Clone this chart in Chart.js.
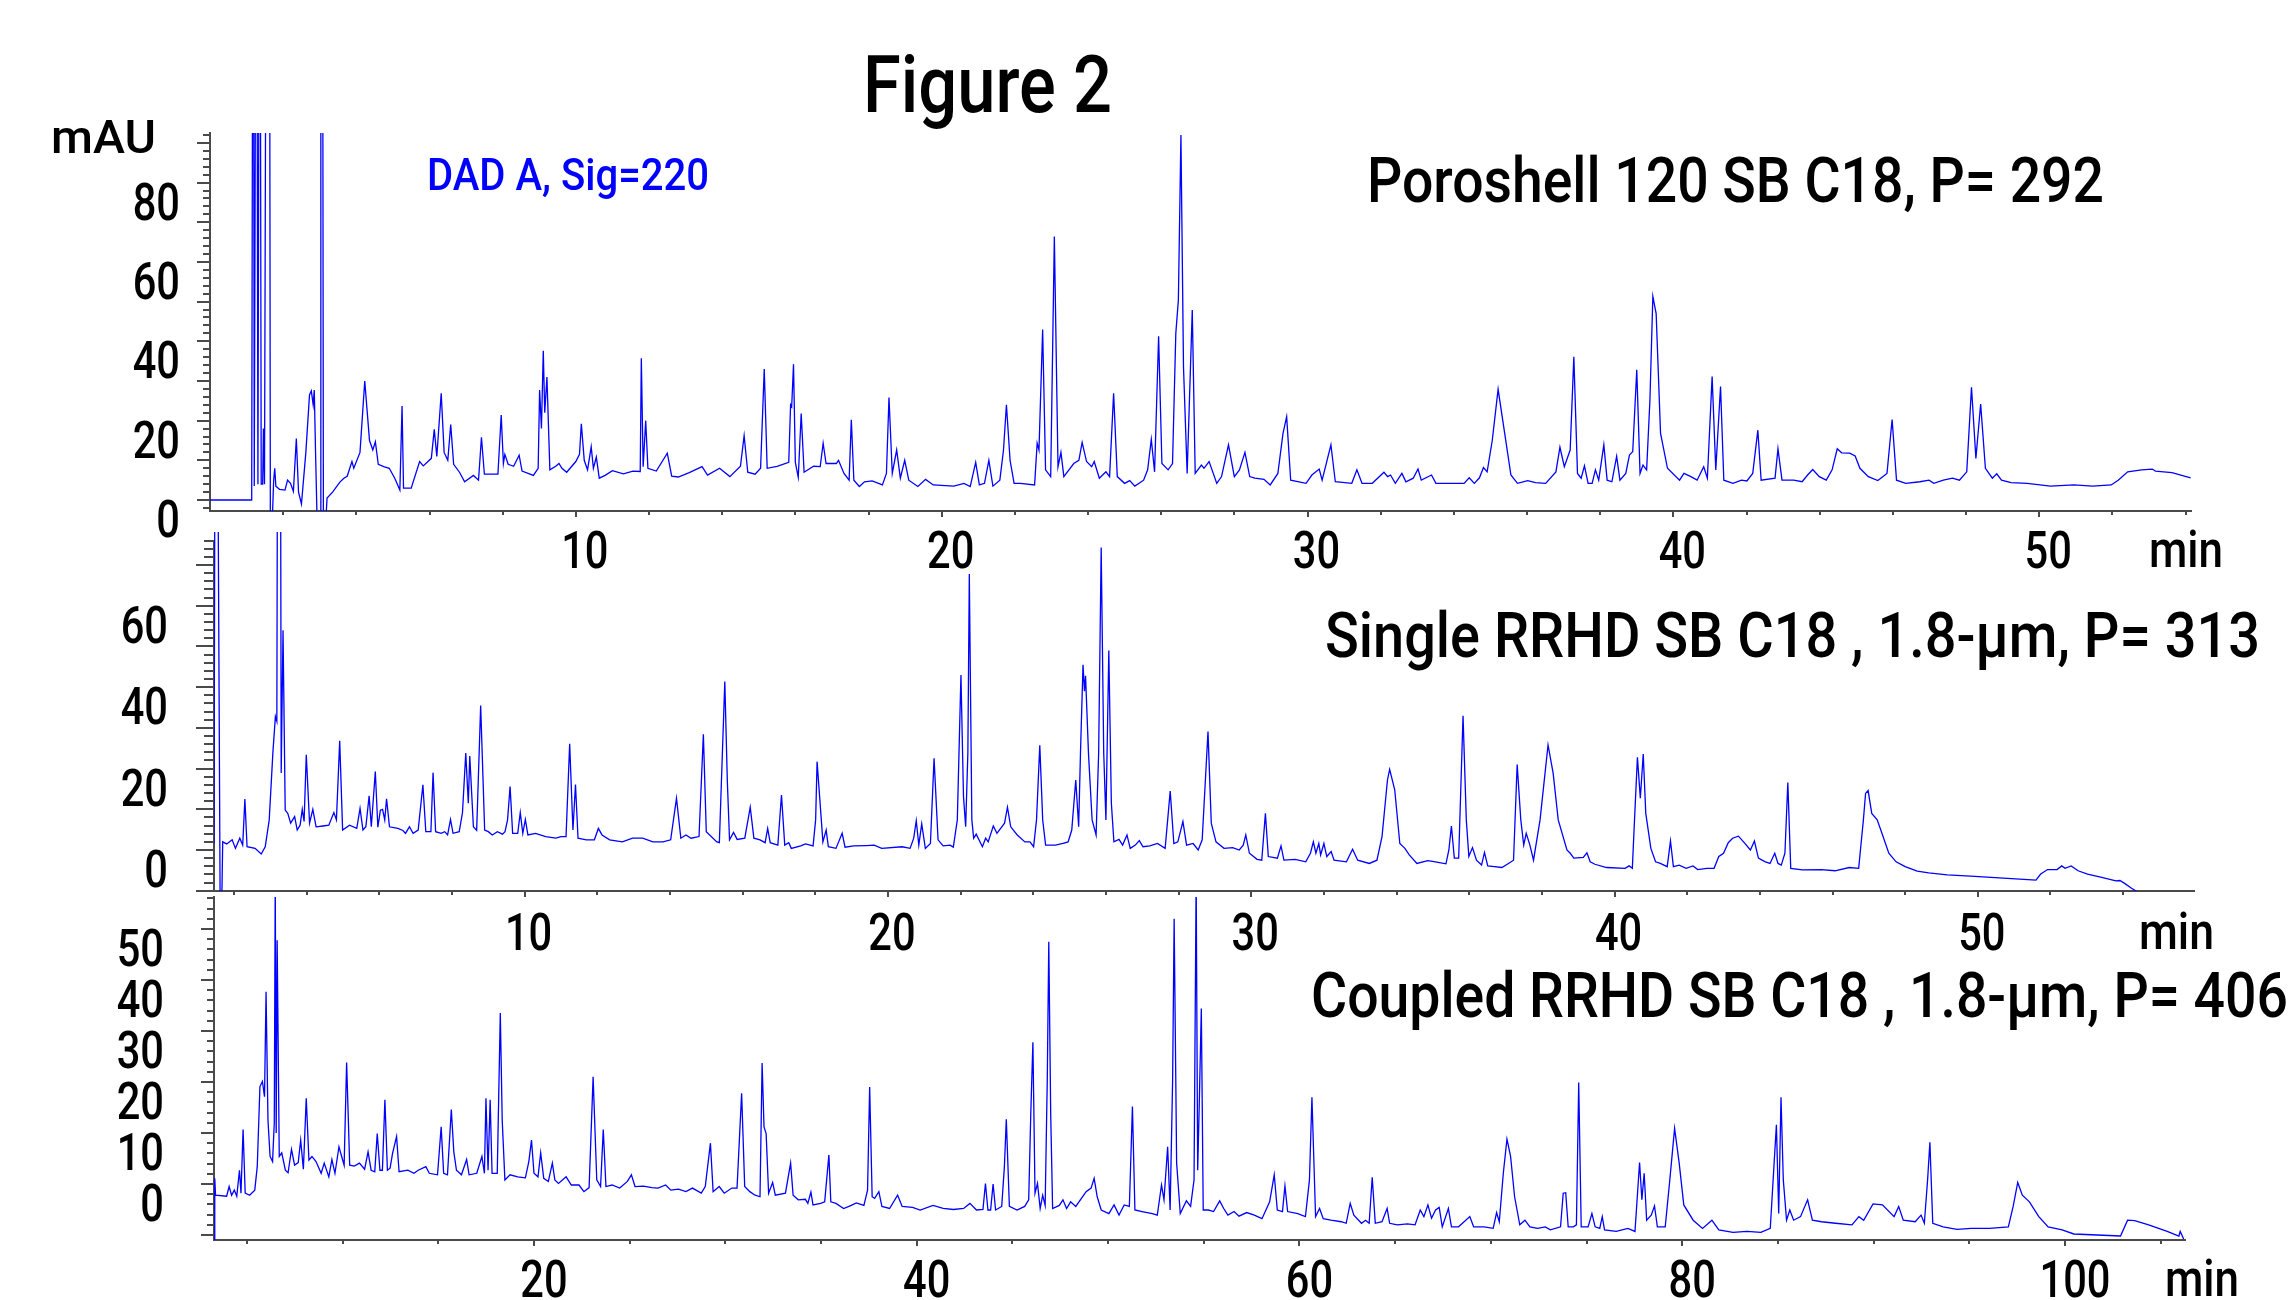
<!DOCTYPE html>
<html>
<head>
<meta charset="utf-8">
<script src="https://cdn.jsdelivr.net/npm/chart.js@4.4.1/dist/chart.umd.min.js"></script>
<style>
  body { margin: 0; background: #fff; }
  #wrap { position: relative; width: 2292px; height: 1300px; overflow: hidden; background: #fff; }
  canvas { position: absolute; left: 0; top: 0; }
  .txt { position: absolute; white-space: nowrap; line-height: 1; font-family: Roboto, "Liberation Sans", Arial, sans-serif; font-weight: 500; transform-origin: 0 0; color: #000; }
</style>
</head>
<body>
<div id="wrap">
  <canvas id="chartA" width="2292" height="1300"></canvas>
  <canvas id="chartB" width="2292" height="1300"></canvas>
  <canvas id="chartC" width="2292" height="1300"></canvas>
  <div class="txt" id="tFig">Figure 2</div>
  <div class="txt" id="tDad" style="color:#0000ff">DAD A, Sig=220</div>
  <div class="txt" id="tMau">mAU</div>
  <div class="txt" id="tA">Poroshell 120 SB C18, P= 292</div>
  <div class="txt" id="tB">Single RRHD SB C18 , 1.8-µm, P= 313</div>
  <div class="txt" id="tC">Coupled RRHD SB C18 , 1.8-µm, P= 406</div>
  <div class="txt" id="minA">min</div>
  <div class="txt" id="minB">min</div>
  <div class="txt" id="minC">min</div>
</div>
<script>
// Poroshell 120 SB C18 (min / mAU)
const timeA = [
  0, 1.14, 1.18, 1.21, 1.27, 1.31, 1.36, 1.40, 1.44, 1.46,
  1.49, 1.55, 1.62, 1.65, 1.70, 1.74, 1.77, 1.80, 1.90, 2.05,
  2.12, 2.20, 2.28, 2.36, 2.42, 2.50, 2.62, 2.72, 2.77, 2.82,
  2.85, 2.89, 2.93, 3.01, 3.03, 3.07, 3.10, 3.16, 3.20, 3.35,
  3.55, 3.66, 3.75, 3.88, 3.93, 4.10, 4.23, 4.36, 4.45, 4.52,
  4.60, 4.75, 4.90, 5.05, 5.19, 5.25, 5.29, 5.50, 5.73, 5.83,
  6.05, 6.13, 6.20, 6.32, 6.40, 6.50, 6.58, 6.66, 6.82, 6.96,
  7.20, 7.34, 7.42, 7.50, 7.87, 7.96, 8.02, 8.06, 8.15, 8.30,
  8.45, 8.53, 8.84, 8.97, 9.01, 9.06, 9.11, 9.15, 9.21, 9.29,
  9.45, 9.54, 9.62, 9.75, 10.00, 10.10, 10.15, 10.23, 10.32, 10.42,
  10.48, 10.56, 10.64, 10.80, 11.00, 11.30, 11.56, 11.76, 11.79, 11.84,
  11.91, 11.97, 12.20, 12.50, 12.62, 12.80, 13.10, 13.45, 13.60, 13.93,
  14.21, 14.50, 14.60, 14.70, 14.90, 15.05, 15.15, 15.23, 15.50, 15.82,
  15.87, 15.90, 15.95, 16.00, 16.08, 16.16, 16.24, 16.50, 16.68, 16.76,
  16.84, 17.12, 17.18, 17.33, 17.47, 17.53, 17.60, 17.75, 17.89, 18.10,
  18.38, 18.49, 18.56, 18.65, 18.77, 18.87, 18.99, 19.10, 19.35, 19.56,
  19.77, 20.33, 20.61, 20.78, 20.93, 21.03, 21.17, 21.29, 21.40, 21.59,
  21.69, 21.77, 21.87, 21.98, 22.15, 22.54, 22.61, 22.66, 22.76, 22.84,
  22.98, 23.08, 23.18, 23.26, 23.34, 23.61, 23.75, 23.84, 23.96, 24.10,
  24.17, 24.31, 24.49, 24.59, 24.70, 24.80, 25.00, 25.14, 25.28, 25.52,
  25.63, 25.73, 25.82, 25.93, 26.02, 26.19, 26.31, 26.40, 26.47, 26.54,
  26.61, 26.71, 26.85, 26.93, 27.10, 27.17, 27.31, 27.52, 27.65, 27.84,
  28.00, 28.14, 28.29, 28.42, 28.56, 28.81, 28.98, 29.19, 29.33, 29.43,
  29.54, 29.96, 30.12, 30.32, 30.40, 30.64, 30.76, 31.21, 31.35, 31.49,
  31.77, 32.09, 32.19, 32.27, 32.40, 32.58, 32.69, 32.89, 33.02, 33.11,
  33.39, 33.51, 34.28, 34.42, 34.56, 34.70, 34.81, 34.91, 35.05, 35.21,
  35.39, 35.56, 35.74, 36.02, 36.23, 36.51, 36.79, 36.90, 37.02, 37.18,
  37.28, 37.38, 37.48, 37.57, 37.67, 37.78, 37.87, 37.96, 38.10, 38.19,
  38.32, 38.45, 38.54, 38.70, 38.80, 38.89, 39.00, 39.09, 39.17, 39.27,
  39.36, 39.44, 39.53, 39.65, 39.84, 40.17, 40.29, 40.48, 40.65, 40.83,
  40.93, 41.06, 41.16, 41.29, 41.38, 41.63, 41.86, 42.01, 42.17, 42.31,
  42.40, 42.78, 42.86, 42.97, 43.29, 43.52, 43.67, 43.81, 43.99, 44.18,
  44.34, 44.48, 44.60, 44.82, 44.97, 45.10, 45.33, 45.59, 45.84, 45.98,
  46.10, 46.35, 46.74, 46.99, 47.12, 47.38, 47.63, 47.82, 48.02, 48.15,
  48.27, 48.40, 48.53, 48.72, 48.84, 48.97, 49.23, 49.67, 50.31, 50.95,
  51.46, 51.97, 52.16, 52.42, 52.80, 53.09, 53.18, 53.63, 54.14
];
const mauA = [
  0, 0, 200, 3.5, 200, 4, 200, 4, 4, 18,
  4, 200, 200, -6, -6, 5, 8, 3.5, 2.7, 2.5,
  5, 4.2, 2.2, 15.5, 2, -1, 12, 26.5, 27.5, 24,
  27.7, 10, -6, -6, 200, 200, -6, -6, 0.5, 2,
  4.5, 5.5, 6, 9.7, 8, 12, 30, 15, 12.6, 14.7,
  9, 8.4, 8, 5.5, 2.5, 23.7, 3, 3, 9.7, 8.6,
  10.5, 17.8, 11, 26.9, 12, 10, 19, 9, 7, 4.6,
  6.2, 5, 15.8, 6.5, 6.5, 21.4, 9.2, 11.5, 9, 8.5,
  11.3, 7.3, 6.2, 8, 27.7, 18, 37.6, 22, 31, 7.6,
  8.5, 9.2, 8, 7, 9.7, 11.5, 19.2, 10, 7.6, 13.4,
  8, 10.8, 5.5, 6.2, 7.4, 6.6, 7.3, 7.2, 35.7, 8.4,
  20, 8, 7.3, 11.8, 6, 5.8, 6.9, 8.4, 6.3, 8,
  5.9, 8.5, 16.2, 7, 6.5, 8, 33, 8, 8.5, 9.5,
  24, 23.5, 34.2, 9.5, 5.7, 21.8, 7, 8.5, 8.4, 14.3,
  9.2, 9.2, 10, 6.7, 5, 20.2, 5, 3.4, 4.6, 4.8,
  3.8, 6.7, 25.8, 6.7, 12.6, 5.5, 10, 5, 3.4, 5.2,
  3.8, 3.5, 4.2, 3.4, 9.5, 3.8, 4.2, 10, 3.5, 5,
  12.6, 24, 10, 4.2, 4.2, 3.8, 14.3, 12.6, 43, 7.6,
  5.9, 66.4, 8.4, 12, 5.9, 9.2, 10, 14.5, 9.7, 8.4,
  9.7, 5.5, 7.1, 5.9, 26.9, 5.9, 4.2, 4.9, 3.5, 5,
  7.6, 15.3, 7.1, 41.3, 9.2, 7.6, 9.2, 42, 50.4, 92,
  33.6, 6.7, 47.9, 6.7, 8.8, 8, 9.7, 4.2, 5.9, 13.9,
  5.9, 7.6, 12, 5.9, 5.5, 5.2, 3.8, 6.7, 16.8, 21,
  5, 4.2, 6.3, 7.8, 5, 13.9, 4.6, 4.2, 7.6, 4.2,
  4.2, 7, 5.9, 6.3, 4.2, 6.7, 4.6, 5.5, 7.8, 5,
  6.3, 4.2, 4.2, 5.6, 4.2, 5.6, 8.2, 7.1, 15, 27.9,
  16.8, 6.3, 4.2, 4.9, 4.4, 4.2, 7.1, 13.3, 8.4, 12.6,
  36.1, 6.7, 5.5, 8.6, 4.2, 4.2, 7.6, 5, 13.9, 5,
  4.6, 11, 5, 6.7, 11.3, 12.2, 32.8, 6.7, 8.8, 7.6,
  25.2, 51.3, 47, 16.8, 8, 5, 6.7, 5.9, 5, 8.4,
  5.5, 31.1, 7.6, 28.6, 5, 4.2, 5, 4.8, 6.7, 17.6,
  5, 5.5, 12.9, 5, 5, 4.6, 6.3, 7.7, 5.9, 5,
  7.6, 12.9, 11.9, 11.8, 11.1, 8, 5.9, 4.9, 6.7, 20.3,
  5, 4.2, 4.6, 5, 4.2, 5, 5.5, 5, 7.1, 28.4,
  10.5, 24.2, 8, 5.5, 6.6, 5, 4.4, 4.2, 3.5, 3.8,
  3.5, 3.8, 5, 7.1, 7.6, 7.8, 7.3, 6.9, 5.6
];

// Single RRHD SB C18, 1.8 um
const timeB = [
  1.45, 1.50, 1.62, 1.66, 1.69, 1.80, 1.95, 2.04, 2.16, 2.24,
  2.30, 2.36, 2.58, 2.75, 2.86, 2.97, 3.07, 3.14, 3.18, 3.22,
  3.26, 3.30, 3.35, 3.41, 3.48, 3.56, 3.67, 3.74, 3.82, 3.88,
  3.93, 3.99, 4.08, 4.17, 4.26, 4.45, 4.61, 4.75, 4.82, 4.91,
  4.99, 5.18, 5.38, 5.47, 5.55, 5.63, 5.72, 5.78, 5.89, 5.96,
  6.03, 6.09, 6.15, 6.20, 6.28, 6.51, 6.65, 6.72, 6.83, 6.93,
  7.07, 7.20, 7.28, 7.42, 7.48, 7.55, 7.70, 7.80, 7.88, 7.96,
  8.03, 8.20, 8.29, 8.38, 8.45, 8.49, 8.59, 8.68, 8.79, 8.90,
  9.00, 9.11, 9.25, 9.39, 9.46, 9.53, 9.60, 9.67, 9.81, 9.88,
  9.95, 10.02, 10.09, 10.30, 10.58, 10.86, 11.00, 11.14, 11.24, 11.33,
  11.40, 11.47, 11.70, 11.92, 12.03, 12.13, 12.34, 12.69, 12.97, 13.25,
  13.53, 13.81, 14.02, 14.18, 14.30, 14.44, 14.58, 14.80, 14.92, 15.00,
  15.29, 15.36, 15.51, 15.58, 15.64, 15.75, 15.85, 16.06, 16.21, 16.31,
  16.48, 16.62, 16.69, 16.76, 16.97, 17.07, 17.16, 17.27, 17.34, 17.60,
  17.73, 17.94, 18.01, 18.05, 18.12, 18.21, 18.30, 18.36, 18.57, 18.74,
  18.82, 19.06, 19.41, 19.62, 19.83, 20.39, 20.61, 20.71, 20.78, 20.85,
  20.93, 21.03, 21.17, 21.27, 21.38, 21.52, 21.71, 21.80, 21.91, 22.01,
  22.08, 22.14, 22.20, 22.24, 22.31, 22.36, 22.43, 22.60, 22.69, 22.76,
  22.90, 23.00, 23.21, 23.29, 23.38, 23.56, 23.77, 23.91, 24.01, 24.09,
  24.18, 24.26, 24.34, 24.61, 24.82, 24.96, 25.06, 25.17, 25.25, 25.30,
  25.37, 25.41, 25.44, 25.52, 25.62, 25.73, 25.80, 25.87, 25.94, 26.00,
  26.08, 26.15, 26.22, 26.36, 26.46, 26.58, 26.67, 26.81, 26.92, 27.02,
  27.21, 27.42, 27.63, 27.70, 27.77, 27.87, 27.98, 28.12, 28.22, 28.40,
  28.54, 28.65, 28.81, 28.90, 29.03, 29.25, 29.49, 29.67, 29.78, 29.85,
  29.95, 30.16, 30.29, 30.39, 30.47, 30.72, 30.82, 30.90, 31.21, 31.50,
  31.63, 31.71, 31.78, 31.86, 31.91, 32.00, 32.08, 32.20, 32.28, 32.62,
  32.79, 32.93, 33.25, 33.46, 33.60, 33.75, 33.81, 33.95, 34.09, 34.23,
  34.35, 34.56, 34.86, 35.07, 35.36, 35.44, 35.51, 35.59, 35.71, 35.83,
  35.92, 35.99, 36.09, 36.20, 36.34, 36.42, 36.51, 36.69, 36.90, 37.08,
  37.22, 37.32, 37.42, 37.50, 37.57, 37.67, 37.77, 37.95, 38.17, 38.31,
  38.45, 38.69, 38.78, 38.88, 39.14, 39.24, 39.33, 39.46, 39.78, 40.29,
  40.40, 40.49, 40.55, 40.63, 40.71, 40.79, 40.86, 41.00, 41.13, 41.26,
  41.45, 41.54, 41.62, 41.78, 41.97, 42.16, 42.29, 42.54, 42.74, 42.87,
  43.00, 43.13, 43.25, 43.41, 43.57, 43.74, 43.85, 43.96, 44.15, 44.28,
  44.41, 44.50, 44.59, 44.69, 44.77, 44.85, 45.17, 45.69, 46.07, 46.46,
  46.72, 46.85, 46.91, 46.98, 47.08, 47.23, 47.36, 47.55, 47.75, 48.00,
  48.33, 48.65, 49.16, 49.80, 50.70, 51.60, 51.73, 51.92, 52.18, 52.31,
  52.40, 52.57, 52.76, 53.02, 53.41, 53.80, 53.91, 54.04, 54.23, 54.47, 54.60
];
const mauB = [
  1.6, 200, -15, -15, 2, 1.5, 2.5, 0.4, 2.9, 1.2,
  12.5, 0.8, 0.4, -1, 0.8, 7.4, 23.8, 32.8, 31.6, 200,
  200, 18.9, 54, 9.8, 9, 6.6, 8.2, 4.9, 6.1, 10,
  7, 23.4, 6.6, 10, 5.7, 5.9, 6.1, 9.2, 7.4, 26.8,
  4.9, 6.1, 5.3, 10.2, 4.9, 5.7, 13.3, 5.7, 19.3, 5.6,
  9.8, 10, 7.4, 12.6, 5.7, 5.3, 4.8, 4.1, 5.7, 4.1,
  4.9, 16, 4.5, 4.5, 19, 4.5, 4.1, 4.5, 3.7, 7.5,
  4.1, 4.5, 9.2, 23.8, 11.5, 23.1, 5.7, 4.8, 35.5, 4.9,
  4.5, 3.7, 4.5, 3.9, 4.5, 7.4, 15.6, 4.1, 4.1, 9.2,
  4.1, 7.5, 3.7, 4.1, 3.3, 2.9, 3.3, 3.3, 26.1, 4.9,
  16.1, 2.9, 2.5, 2.5, 5.3, 3.7, 2.5, 2, 2.9, 2.9,
  2, 2, 2.5, 12.7, 2.9, 3.7, 2.9, 3.3, 28.4, 4.5,
  2, 1.8, 41.4, 16.8, 2.5, 4.3, 2.6, 2.9, 10.5, 2.9,
  2.5, 1.8, 5.3, 1.8, 1.2, 13.5, 1.2, 1.8, 0.4, 1,
  1.5, 1, 7.4, 21.7, 13.1, 2, 4.9, 0.8, 0.4, 4.1,
  0.7, 1, 1.1, 1.2, 0.4, 0.8, 0.4, 2.9, 7.2, 1.2,
  6.4, 0.4, 1.6, 22.5, 2.5, 1, 1.2, 0.7, 7.4, 43,
  13.1, 5.7, 23.8, 67.8, 7.4, 2.9, 3.9, 0.8, 2.9, 2,
  5.9, 4.1, 6.6, 10.5, 5.7, 3.7, 2, 2, 0.8, 7.4,
  25.7, 7.4, 1.2, 1.2, 1.6, 2, 4.9, 17.2, 5.7, 23.8,
  45.5, 39, 42.8, 23.8, 7.4, 3.7, 23.8, 74.3, 23.8, 7.4,
  49, 11.5, 2, 2.6, 1.2, 3.7, 0.4, 1.2, 2.3, 0.8,
  1, 1.6, 0.4, 7.4, 14.5, 1.6, 2, 7, 1.2, 1.6,
  0, 2.5, 29.1, 6.6, 2, 0.4, 0.6, 0, 1.2, 3.7,
  -0.8, -2.3, -2.5, 9, -1.6, -2, 1, -2.5, -2.3, -2.9,
  -0.8, 2, -0.8, 1.6, -1.2, 1.6, -1.6, -0.4, -2.5, -2.9,
  0.2, -2.5, -3.3, -2.5, 3.3, 17.2, 19.8, 14.8, 1.6, 0.4,
  -1.2, -3.3, -2.6, -2.9, -3.4, 0, 5.9, -2, -2, 33,
  7.4, -1.6, 0.6, -2.5, -3.7, -0.6, -3.9, -4.1, -4.3, -3.3,
  -2.5, 21, 7.4, 1.2, 4.1, 1.2, -2.5, 7.4, 25.8, 18.9,
  7.4, 0, -0.8, -2, -1.8, -0.7, -2.9, -3.5, -4.3, -4.5,
  -3.9, -4.5, 7.4, 22.8, 12.7, 23.6, 9, 0.4, -2.9, -3.3,
  -4.1, 2.2, -4.1, -3.7, -4.5, -3.9, -4.8, -4.5, -4.5, -1.6,
  -0.8, 1.8, 2.9, 3.4, 1.8, 0, 2.2, -2, -2.9, -3.3,
  -0.8, -3.3, -3.7, -0.8, 16.6, -4.5, -4.9, -4.8, -5.1, -4.3,
  -4.5, 7.4, 13.9, 14.6, 9, 7.4, 4.1, -0.8, -2.9, -4.1,
  -5.2, -5.6, -6.1, -6.4, -6.9, -7.4, -5.9, -4.8, -4.8, -3.9,
  -4.5, -3.9, -5.1, -5.9, -6.7, -7.6, -7.5, -8.2, -9.4, -10.7, -13
];

// Coupled RRHD SB C18, 1.8 um
const timeC = [
  3.28, 3.32, 3.36, 3.94, 4.07, 4.20, 4.34, 4.47, 4.61, 4.69,
  4.80, 4.91, 5.14, 5.41, 5.54, 5.68, 5.81, 5.92, 6.00, 6.10,
  6.21, 6.34, 6.43, 6.48, 6.53, 6.58, 6.69, 6.82, 7.01, 7.15,
  7.33, 7.49, 7.68, 7.81, 7.95, 8.10, 8.24, 8.40, 8.61, 8.88,
  9.04, 9.28, 9.44, 9.60, 9.81, 9.95, 10.08, 10.21, 10.37, 10.61,
  10.88, 11.15, 11.33, 11.49, 11.68, 11.81, 11.95, 12.08, 12.21, 12.34,
  12.48, 12.61, 12.82, 12.95, 13.41, 13.73, 13.95, 14.35, 14.53, 14.96,
  15.15, 15.28, 15.48, 15.68, 15.81, 15.95, 16.21, 16.48, 16.61, 17.01,
  17.28, 17.41, 17.49, 17.60, 17.71, 17.81, 18.08, 18.24, 18.34, 18.48,
  18.75, 19.15, 19.55, 19.73, 19.87, 20.00, 20.21, 20.35, 20.51, 20.75,
  20.96, 21.09, 21.28, 21.68, 21.95, 22.35, 22.61, 22.88, 23.09, 23.28,
  23.48, 23.62, 23.76, 24.08, 24.48, 24.88, 25.09, 25.28, 25.72, 26.16,
  26.48, 26.88, 27.15, 27.55, 27.94, 28.28, 28.74, 28.95, 29.22, 29.36,
  29.68, 29.94, 30.34, 30.61, 30.85, 31.01, 31.28, 31.55, 31.81, 31.92,
  32.02, 32.13, 32.26, 32.47, 32.61, 33.14, 33.41, 33.54, 33.81, 34.18,
  34.31, 34.47, 34.58, 34.98, 35.19, 35.41, 35.51, 35.78, 36.18, 36.58,
  36.84, 37.24, 37.43, 37.54, 37.67, 37.80, 38.02, 38.18, 38.58, 39.00,
  39.24, 39.78, 40.18, 40.85, 41.38, 41.92, 42.45, 42.78, 43.12, 43.46,
  43.59, 43.72, 43.86, 43.99, 44.12, 44.44, 44.58, 44.68, 44.84, 45.24,
  45.64, 45.85, 45.96, 46.07, 46.18, 46.31, 46.45, 46.58, 46.71, 46.82,
  46.90, 47.00, 47.10, 47.45, 47.64, 47.83, 48.04, 48.31, 48.85, 49.11,
  49.27, 49.43, 49.64, 50.04, 50.31, 50.57, 50.84, 51.11, 51.27, 51.40,
  51.77, 52.31, 52.57, 52.79, 52.92, 53.11, 53.24, 53.37, 53.45, 53.58,
  53.77, 54.09, 54.31, 54.49, 54.60, 54.68, 54.76, 54.87, 54.97, 55.24,
  55.51, 55.83, 56.04, 56.26, 56.58, 56.84, 57.24, 57.64, 58.04, 58.44,
  58.68, 58.84, 59.11, 59.24, 59.38, 59.91, 60.31, 60.52, 60.65, 60.84,
  61.05, 61.24, 61.64, 62.18, 62.44, 62.65, 62.84, 63.24, 63.45, 63.64,
  63.80, 63.96, 64.31, 64.58, 64.71, 65.11, 65.64, 66.04, 66.31, 66.50,
  66.71, 66.90, 67.11, 67.30, 67.46, 67.78, 67.94, 68.31, 68.90, 69.10,
  69.64, 70.12, 70.30, 70.44, 70.65, 70.84, 71.03, 71.24, 71.51, 71.78,
  72.04, 72.44, 72.84, 73.11, 73.64, 73.78, 73.91, 74.04, 74.31, 74.47,
  74.59, 74.72, 75.08, 75.28, 75.45, 75.69, 75.82, 75.94, 76.55, 77.16,
  77.53, 77.77, 77.89, 78.01, 78.14, 78.38, 78.55, 78.70, 79.11, 79.35,
  79.60, 79.84, 80.08, 80.57, 81.06, 81.55, 81.91, 82.65, 83.38, 84.11,
  84.60, 84.79, 84.92, 85.04, 85.16, 85.28, 85.45, 85.62, 85.82, 86.18,
  86.55, 86.80, 87.28, 88.01, 88.87, 89.23, 89.48, 89.97, 90.46, 91.07,
  91.31, 91.55, 92.17, 92.48, 92.65, 92.82, 92.94, 93.09, 93.63, 94.36,
  95.09, 96.06, 97.04, 97.29, 97.53, 97.77, 98.14, 98.63, 99.12, 99.85,
  100.46, 101.68, 102.90, 103.27, 103.64, 104.37, 105.34, 105.95, 106.02, 106.20
];
const mauC = [
  -12, 1.1, -2.2, -2.4, -0.5, -2.2, -1.2, -2.4, 2.7, -1.8,
  10.7, -1.8, -2.2, -1.2, 3.4, 19.1, 20.1, 17.1, 37.7, 12.5,
  5.4, 4.4, 12, 60, 10, 47.8, 5.4, 6.1, 2.7, 2.2,
  6.8, 3.7, 4.2, 8.6, 2.9, 16.8, 4.7, 5.4, 4.4, 2.1,
  4.1, 1.4, 4.8, 2.1, 7.3, 5.4, 3.7, 23.8, 3.7, 3.5,
  4.1, 2.9, 6.3, 2.7, 2.4, 9.9, 2.7, 2.7, 16.5, 2.7,
  3.1, 6, 9.3, 2.4, 2.7, 2.1, 2.7, 3.4, 2.1, 1.8,
  11.2, 2.1, 1.8, 14.6, 6.3, 2.7, 1.8, 4.8, 1.8, 2.1,
  5.4, 2.1, 16.8, 2.7, 16.5, 2.1, 2.1, 33.5, 12.5, 0.8,
  1.8, 1.4, 1.2, 4.4, 8.6, 2.1, 1.4, 6.1, 1.1, 0.5,
  4.1, 0.8, 0.1, 1.4, -0.2, -0.2, -1.5, -0.7, 21, 0.8,
  -0.5, 10.7, -0.5, -0.2, -0.8, 0.5, 1.8, -0.5, -0.4, -0.7,
  -0.8, -0.2, -1.2, -1, -1.5, -0.8, -1.8, -0.5, 8, -1.5,
  -0.5, -1.8, -0.8, -0.8, 17.8, -0.5, -1.5, -2.2, -2.5, 23.7,
  11.2, 9.9, -1.8, 0.3, -2.2, -1.8, 4.1, -2.2, -3.1, -3,
  -3.8, -1.6, -4.1, -3.8, -3.5, 5.7, -3.5, -3.8, -4.8, -4.2,
  -3.7, -4.2, -1.2, 19, -2.5, -2.8, -1.5, -4.4, -4.8, -2.2,
  -4.4, -4.6, -5.1, -4.2, -4.8, -5, -4.8, -3.8, -5.1, -5,
  0.1, -5.1, -5.1, 0, -5.1, -4.4, 3.4, 12.7, -4.4, -5.1,
  -4.4, -3.1, 13.9, 27.8, -1.8, 0.1, -4.8, -2.2, -4.2, 20.3,
  47.5, 13.7, -4.8, -4.2, -3.1, -4.8, -3.5, -4.4, -1.5, -0.8,
  1.1, -2.5, -5.1, -5.8, -4.1, -6.1, -4.1, -4.4, 15.2, -5.1,
  -5.4, -5.8, -6.1, -0.2, -3.1, 7.3, -5.1, 20.3, 52, 4.1,
  -5.8, -3.3, -4.4, 0.8, 60, 2.7, 15.2, 34.4, -5.1, -5.1,
  -5.4, -3.3, -4.8, -6.1, -5.4, -6.3, -5.6, -6.1, -6.8, -3.5,
  1.8, -5.1, -5.4, -0.4, -5.4, -5.8, -6.4, 0.8, 17, -6.4,
  -4.8, -6.8, -7.1, -7.4, -7.7, -3.8, -6.1, -7.7, -7.1, -7.7,
  1.3, -7.7, -7.4, -4.8, -7.7, -8, -7.8, -8, -5.1, -6.4,
  -4.1, -6.7, -5.1, -4.6, -8.4, -4.8, -8.4, -8.4, -6.4, -8.4,
  -8.4, -8.7, -5.6, -7.4, 2.1, 8.8, 5.4, -2.5, -8, -7.1,
  -8.4, -8.7, -8.4, -9, -8.4, -1.8, -1.7, -8.4, -8.4, -8,
  19.9, -8.4, -8.4, -5.8, -8.4, -8.7, -6.4, -9, -9.3, -8.7,
  -9.3, 4.2, -3.1, 2.1, -7.1, -6.1, -4.3, -8.4, -8.4, 0.8,
  10.9, 4.1, -4.1, -7.1, -8.7, -7.1, -9, -9.5, -9.3, -9.5,
  -8.7, 3.4, 11.6, -5.8, 17, 0.8, -7.1, -5.1, -7.1, -6.4,
  -3.1, -7.1, -7.4, -7.7, -8, -6.4, -7.1, -3.9, -4.1, -6.4,
  -4.4, -7.1, -7.4, -6.1, -7.7, 0.8, 8.2, -7.7, -8.4, -8.9,
  -8.7, -8.7, -8.4, -4.4, 0.3, -2.2, -3.5, -6.4, -8.4, -9,
  -9.8, -10, -10.2, -7.1, -7.2, -8, -9.3, -10.2, -9.3, -10.8
];

// tick labels
const yLabelsA = [0, 20, 40, 60, 80];
const xLabelsA = [10, 20, 30, 40, 50];
const yLabelsB = [0, 20, 40, 60];
const xLabelsB = [10, 20, 30, 40, 50];
const yLabelsC = [0, 10, 20, 30, 40, 50];
const xLabelsC = [20, 40, 60, 80, 100];

const AXIS = '#4a4a4a';
const TRACE = '#0000ff';
const LABEL_FONT = '500 52px Roboto, "Liberation Sans", Arial, sans-serif';
const SQUEEZE = 0.8;

// tick marks (minor/major) and condensed labels, positioned with the chart's own scales
const axisDecor = {
  id: 'axisDecor',
  afterDraw(chart, args, o) {
    const ctx = chart.ctx, xs = chart.scales.x, ys = chart.scales.y;
    const left = chart.chartArea.left, bottom = chart.chartArea.bottom;
    ctx.save();
    ctx.strokeStyle = AXIS;
    ctx.lineWidth = 2;
    ctx.beginPath();
    for (let v = o.yFrom; v <= o.yTo + 1e-6; v += 2) {
      const py = Math.round(ys.getPixelForValue(v));
      const len = (Math.round(v) % 10 === 0) ? o.yMajor : o.yMinor;
      ctx.moveTo(left - len, py);
      ctx.lineTo(left, py);
    }
    for (let t = o.xFrom; t <= o.xTo + 1e-6; t += o.xStep) {
      const px = Math.round(xs.getPixelForValue(t));
      const len = (t % o.xMajor === 0) ? 6 : 4;
      ctx.moveTo(px, bottom);
      ctx.lineTo(px, bottom + len);
    }
    ctx.stroke();

    ctx.fillStyle = '#000';
    ctx.font = LABEL_FONT;
    ctx.textBaseline = 'alphabetic';
    o.yLabels.forEach(v => {
      ctx.save();
      ctx.translate(o.yRight, ys.getPixelForValue(v) + 37);
      ctx.scale(SQUEEZE, 1);
      ctx.textAlign = 'right';
      ctx.fillText(String(v), 0, 0);
      ctx.restore();
    });
    o.xLabels.forEach(t => {
      ctx.save();
      ctx.translate(xs.getPixelForValue(t) + o.xShift, o.xBase);
      ctx.scale(SQUEEZE, 1);
      ctx.textAlign = 'center';
      ctx.fillText(String(t), 0, 0);
      ctx.restore();
    });
    ctx.restore();
  }
};

function makePanel(id, times, values, c) {
  const pts = times.map((t, i) => ({ x: t, y: values[i] }));
  return new Chart(document.getElementById(id), {
    type: 'line',
    data: {
      datasets: [{
        data: pts,
        borderColor: TRACE,
        borderWidth: 1.3,
        pointRadius: 0,
        tension: 0,
        fill: false,
        clip: c.clip
      }]
    },
    options: {
      responsive: false,
      animation: false,
      devicePixelRatio: 1,
      events: [],
      layout: { padding: { left: c.area[0], top: c.area[1], right: 2292 - c.area[2], bottom: 1300 - c.area[3] } },
      plugins: { legend: { display: false }, tooltip: { enabled: false }, axisDecor: c.decor },
      scales: {
        x: {
          type: 'linear', min: c.xMin, max: c.xMax,
          grid: { display: false, drawTicks: false },
          border: { display: true, color: AXIS, width: 2 },
          ticks: { display: false },
          afterFit: s => { s.height = 0; }
        },
        y: {
          type: 'linear', min: c.yMin, max: c.yMax,
          grid: { display: false, drawTicks: false },
          border: { display: true, color: AXIS, width: 2 },
          ticks: { display: false },
          afterFit: s => { s.width = 0; }
        }
      }
    },
    plugins: [axisDecor]
  });
}

function drawAll() {
  makePanel('chartA', timeA, mauA, {
    area: [210, 133, 2191, 511], xMin: 0, xMax: 54.15, yMin: -2.77, yMax: 92.5,
    clip: { left: 0, top: 0, right: 0, bottom: 0 },
    decor: { yFrom: -2, yTo: 92, yMajor: 13, yMinor: 7, yLabels: yLabelsA, yRight: 180,
             xFrom: 2, xTo: 54, xStep: 2, xMajor: 10, xLabels: xLabelsA, xShift: 9, xBase: 568 }
  });
  makePanel('chartB', timeB, mauB, {
    area: [214, 541, 2194, 891], xMin: 1.45, xMax: 55.95, yMin: -10.07, yMax: 75.9,
    clip: { left: 0, top: 9, right: 0, bottom: 0 },
    decor: { yFrom: -10, yTo: 76, yMajor: 18, yMinor: 10, yLabels: yLabelsB, yRight: 168,
             xFrom: 2, xTo: 54, xStep: 2, xMajor: 10, xLabels: xLabelsB, xShift: 4, xBase: 950 }
  });
  makePanel('chartC', timeC, mauC, {
    area: [214, 897, 2185, 1240], xMin: 3.28, xMax: 106.27, yMin: -10.98, yMax: 56.27,
    clip: { left: 0, top: 0, right: 0, bottom: 0 },
    decor: { yFrom: -10, yTo: 56, yMajor: 13, yMinor: 7, yLabels: yLabelsC, yRight: 164,
             xFrom: 5, xTo: 105, xStep: 5, xMajor: 20, xLabels: xLabelsC, xShift: 10, xBase: 1297 }
  });

  // free text: left edge, baseline, font size, target width (condensed by scaleX)
  function place(id, left, base, size, width) {
    const el = document.getElementById(id);
    el.style.fontSize = size + 'px';
    el.style.left = left + 'px';
    el.style.top = (base - 0.842 * size) + 'px';
    const w = el.getBoundingClientRect().width;
    el.style.transform = 'scaleX(' + (width / w).toFixed(4) + ')';
  }
  place('tFig', 863, 113, 79, 249);
  place('tDad', 427, 190, 45, 282);
  place('tMau', 51, 153, 46, 105);
  place('tA', 1367, 202, 63, 737);
  place('tB', 1325, 657, 63, 935);
  place('tC', 1311, 1017, 63, 977);
  place('minA', 2149, 568, 52, 74);
  place('minB', 2139, 950, 52, 75);
  place('minC', 2165, 1297, 52, 74);
}

if (document.fonts && document.fonts.load) {
  Promise.all([
    document.fonts.load('500 52px Roboto'),
    document.fonts.load('52px Roboto')
  ]).then(drawAll, drawAll);
} else {
  drawAll();
}
</script>
</body>
</html>
